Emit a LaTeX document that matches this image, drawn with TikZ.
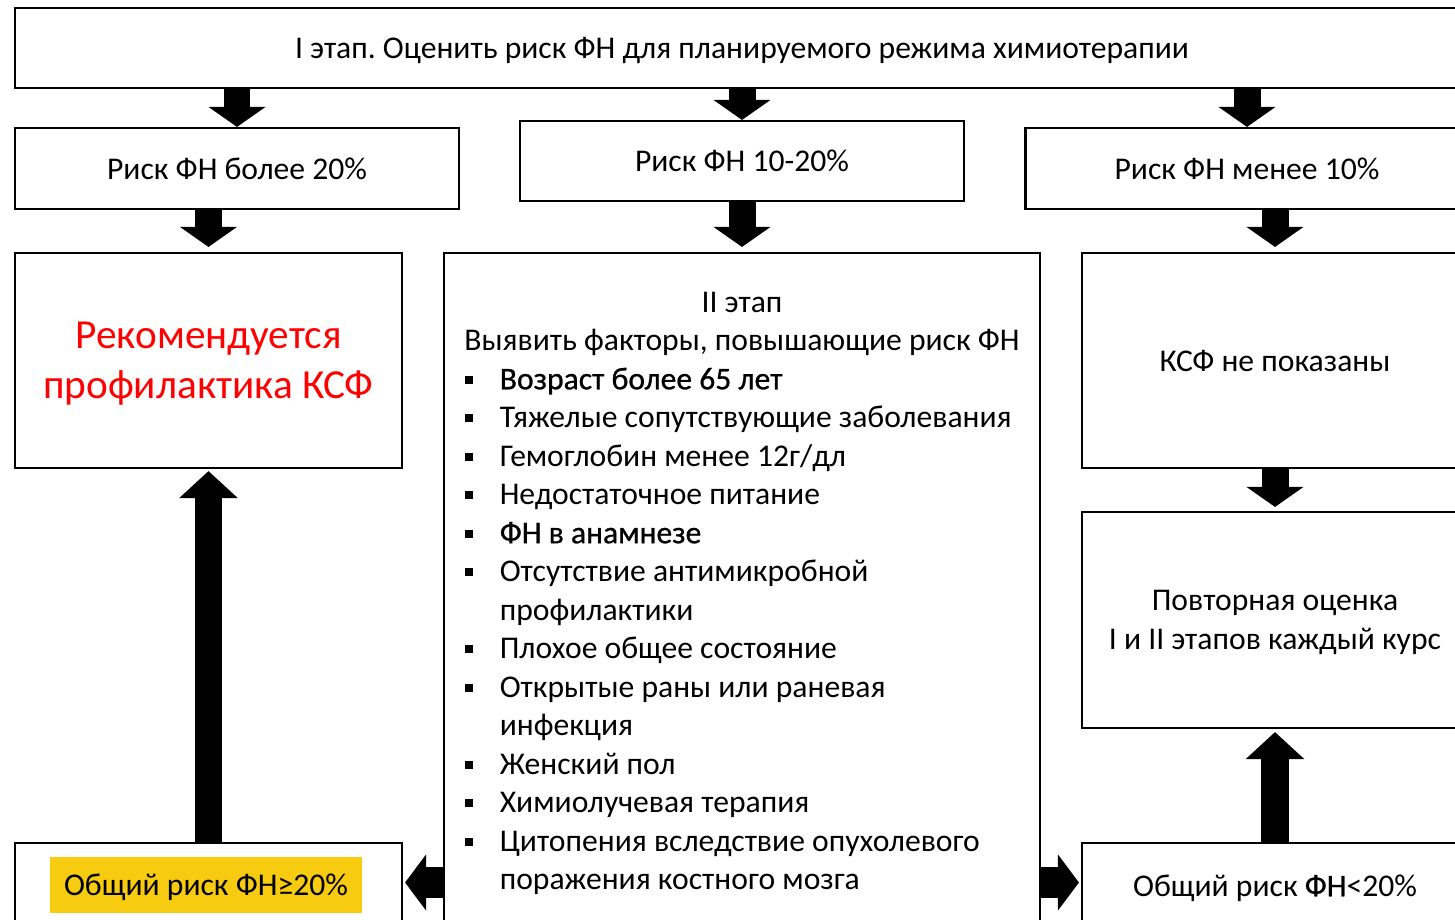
\documentclass[tikz,border=0pt]{standalone}
\usepackage{fontspec}
\setmainfont{Carlito}
\newfontfamily\heavyfont[FakeBold=0.8]{Carlito}
\usetikzlibrary{arrows.meta, positioning}
\definecolor{riskyellow}{HTML}{F7CB10}
\frenchspacing
\newcommand{\factorbullet}{\rule[3pt]{4.6pt}{4.6pt}}

\begin{document}
\begin{tikzpicture}[x=0.02cm, y=-0.02cm,
    box/.style={draw, line width=1.2pt, inner sep=0pt, align=center, text depth=0pt,
        font=\fontsize{18}{21.9}\selectfont},
    boxsize/.style 2 args={minimum width=#1*0.02cm, minimum height=#2*0.02cm},
    blockarrow/.style={line width=0.54cm, -{Triangle[width=1.12cm, length=0.4cm]}},
    bigarrow/.style={line width=0.56cm, -{Triangle[width=1.14cm, length=0.54cm]}},
    sidearrow/.style={line width=0.62cm, -{Triangle[width=1.1cm, length=0.42cm]}}]
    \useasboundingbox (0,0) rectangle (1455,920);
    \clip (0,0) rectangle (1455,920);

    % stage I and the three risk groups
    \node[box, boxsize={1454}{80}] (stageone) at (742,48)
        {I этап. Оценить риск ФН для планируемого режима химиотерапии};
    \node[box, boxsize={444}{81}] (high) at (237,168.5) {Риск ФН более 20\%};
    \node[box, boxsize={444}{80}] (mid) at (742,161) {Риск ФН 10-20\%};
    \node[box, boxsize={443}{81}] (low) at (1247,168.5) {Риск ФН менее 10\%};

    \node[box, boxsize={387}{215}, text=red,
        font=\fontsize{23.5}{28.5}\selectfont] (recommend) at (208.5,360.5)
        {Рекомендуется\\профилактика КСФ};
    \node[box, boxsize={596}{700}] (stagetwo) at (742,603) {};
    \node[box, boxsize={386}{215}] (nocsf) at (1275,360.5) {КСФ не показаны};
    \node[box, boxsize={386}{216}] (repeat) at (1275,620)
        {Повторная оценка\\I и II этапов каждый курс};

    % stage II text
    \node[align=center, inner sep=0pt, font=\fontsize{18}{21.9}\selectfont] (stagetwotitle)
        at (742,324) {II этап\\Выявить факторы, повышающие риск ФН};
    \node[anchor=north west, inner sep=0pt, font=\fontsize{18}{21.9}\selectfont] (factors)
        at (465,362) {\begin{tabular}[t]{@{}l@{\hspace{15pt}}l@{}}
        \factorbullet & {\heavyfont Возраст более 65 лет}\\
        \factorbullet & Тяжелые сопутствующие заболевания\\
        \factorbullet & Гемоглобин менее 12г/дл\\
        \factorbullet & Недостаточное питание\\
        \factorbullet & {\heavyfont ФН в анамнезе}\\
        \factorbullet & Отсутствие антимикробной\\
         & профилактики\\
        \factorbullet & Плохое общее состояние\\
        \factorbullet & Открытые раны или раневая\\
         & инфекция\\
        \factorbullet & Женский пол\\
        \factorbullet & Химиолучевая терапия\\
        \factorbullet & Цитопения вследствие опухолевого\\
         & поражения костного мозга
        \end{tabular}};

    % total risk
    \node[box, boxsize={387}{85}] (hightotal) at (208.5,885.5) {};
    \node[fill=riskyellow, boxsize={312}{56}, inner sep=0pt, text depth=0pt,
        font=\fontsize{18}{21.9}\selectfont] (hightag) at (206,885) {Общий риск ФН≥20\%};
    \node[box, boxsize={386}{85}] (lowtotal) at (1275,885.5)
        {Общий риск {\heavyfont ФН}<20\%};

    % arrows
    \draw[blockarrow] (stageone.south -| high) -- (high.north);
    \draw[blockarrow] (stageone.south -| mid) -- (mid.north);
    \draw[blockarrow] (stageone.south -| low) -- (low.north);
    \draw[blockarrow, shorten >=0.1cm] (high.south -| recommend) -- (recommend.north);
    \draw[blockarrow, shorten >=0.1cm] (mid.south) -- (stagetwo.north);
    \draw[blockarrow, shorten >=0.1cm] (low.south -| nocsf) -- (nocsf.north);
    \draw[blockarrow, shorten >=0.08cm] (nocsf.south) -- (repeat.north);
    \draw[bigarrow, shorten >=0.04cm] (hightotal.north) -- (recommend.south);
    \draw[bigarrow, shorten >=0.06cm] (lowtotal.north) -- (repeat.south);
    \draw[sidearrow, shorten >=0.04cm] ([yshift=0.05cm]stagetwo.west |- hightag)
        -- ([yshift=0.05cm]hightotal.east |- hightag);
    \draw[sidearrow, shorten >=0.04cm] ([yshift=0.05cm]stagetwo.east |- hightag)
        -- ([yshift=0.05cm]lowtotal.west |- hightag);
\end{tikzpicture}
\end{document}
